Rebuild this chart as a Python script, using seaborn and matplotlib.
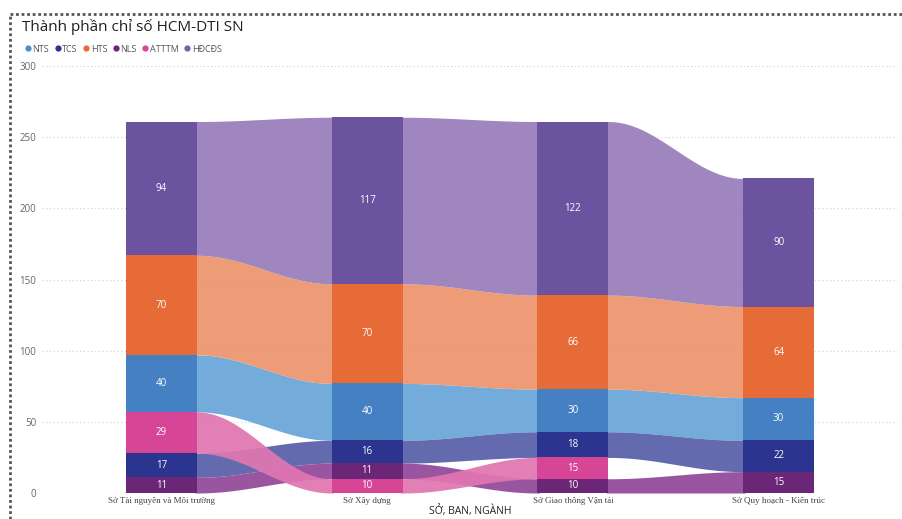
import numpy as np
import pandas as pd
import matplotlib.pyplot as plt
import seaborn as sns
from matplotlib.lines import Line2D

categories = ["Sở Tài nguyên và Môi trường", "Sở Xây dựng",
              "Sở Giao thông Vận tải", "Sở Quy hoạch - Kiến trúc"]
series = ["NTS", "TCS", "HTS", "NLS", "ATTTM", "HĐCĐS"]

nts = [40, 40, 30, 30]
tcs = [17, 16, 18, 22]
hts = [70, 70, 66, 64]
nls = [11, 11, 10, 15]
atttm = [29, 10, 15, 0]
hdcds = [94, 117, 122, 90]

bar_colors = {"NTS": "#4480C2", "TCS": "#2B358F", "HTS": "#E66B37",
              "NLS": "#6B2678", "ATTTM": "#D74696", "HĐCĐS": "#6C53A0"}
ribbon_colors = {"NTS": "#68A6D9", "TCS": "#5760A8", "HTS": "#ED946E",
                 "NLS": "#934899", "ATTTM": "#E076B1", "HĐCĐS": "#987DBA"}
legend_colors = {"NTS": "#4A8FD0", "TCS": "#2B358F", "HTS": "#E66C37",
                 "NLS": "#6B2678", "ATTTM": "#D9479B", "HĐCĐS": "#7A5EB0"}

values = dict(zip(series, [nts, tcs, hts, nls, atttm, hdcds]))

# ribbon chart: in each column the smallest value sits at the bottom
rows = []
for i, cat in enumerate(categories):
    col = sorted((values[s][i], s) for s in series if values[s][i] > 0)
    base = 0
    for v, s in col:
        rows.append(dict(cat=cat, pos=i, series=s, value=v, bottom=base, top=base + v))
        base += v
df = pd.DataFrame(rows)
df["rank"] = df.groupby("cat")["top"].rank(ascending=False).astype(int)

sns.set_theme(style="white")
plt.rcParams["font.family"] = ["Open Sans", "DejaVu Sans"]

fig = plt.figure(figsize=(9.02, 5.19), dpi=100)
ax = fig.add_axes([42 / 902, 26 / 519, 856 / 902, 427 / 519])

bar_w = 71 / 205.67

# stacked bars: draw the tallest cumulative segment first, smaller ones on top
for r in sorted(df["rank"].unique()):
    sub = df[df["rank"] == r]
    sns.barplot(data=sub, x="cat", y="top", hue="series", order=categories,
                palette=bar_colors, dodge=False, width=bar_w, errorbar=None,
                saturation=1, legend=False, linewidth=0, ax=ax, zorder=3)

# ribbons between neighbouring columns (tucked a little under the bars)
t = np.linspace(0, 1, 80)
s = (1 - np.cos(np.pi * t)) / 2
tuck = 0.01
for name in series:
    sd = df[df["series"] == name].set_index("pos")
    for i in range(len(categories) - 1):
        if i not in sd.index or i + 1 not in sd.index:
            continue
        x = i + bar_w / 2 + t * (1 - bar_w)
        lo = sd.loc[i, "bottom"] + (sd.loc[i + 1, "bottom"] - sd.loc[i, "bottom"]) * s
        hi = sd.loc[i, "top"] + (sd.loc[i + 1, "top"] - sd.loc[i, "top"]) * s
        x = np.r_[x[0] - tuck, x, x[-1] + tuck]
        lo = np.r_[lo[0], lo, lo[-1]]
        hi = np.r_[hi[0], hi, hi[-1]]
        ax.fill_between(x, lo, hi, color=ribbon_colors[name], alpha=0.93,
                        linewidth=0, zorder=2)

for _, row in df.iterrows():
    ax.text(row["pos"], (row["bottom"] + row["top"]) / 2, str(row["value"]),
            ha="center", va="center", color="white", fontsize=7, zorder=4)

ax.set_xlim(-0.58, 3.58)
ax.set_ylim(0, 300)
ax.set_yticks(range(0, 301, 50))
ax.yaxis.grid(True, linestyle=(0, (1, 2)), color="#d5d5d5", linewidth=0.9)
ax.xaxis.grid(False)
ax.set_axisbelow(True)
sns.despine(ax=ax, left=True, bottom=True)
ax.tick_params(axis="both", length=0)
ax.tick_params(axis="y", labelsize=7, labelcolor="#666666", pad=4)
ax.set_xticks(range(len(categories)))
ax.set_xticklabels(categories, fontsize=6.5, color="#444444",
                   family=["Liberation Serif"])
ax.tick_params(axis="x", pad=3)
ax.set_ylabel("")
ax.set_xlabel("SỞ, BAN, NGÀNH", fontsize=7.5, color="#252423", labelpad=0)

fig.text(22 / 902, 1 - 27 / 519, "Thành phần chỉ số HCM-DTI SN", fontsize=11,
         color="#1f1f1f", va="center", ha="left")

handles = [Line2D([0], [0], marker="o", linestyle="", markersize=4.5,
                  markerfacecolor=legend_colors[n], markeredgewidth=0)
           for n in series]
fig.legend(handles, series, loc="center left", bbox_to_anchor=(19 / 902, 1 - 49 / 519),
           ncol=6, frameon=False, fontsize=6.5, handletextpad=0.0,
           columnspacing=0.45, borderpad=0, handlelength=1.0,
           labelcolor="#555555")

# dotted frame of the visual
fig.add_artist(Line2D([10 / 902, 1], [1 - 14 / 519, 1 - 14 / 519],
                      transform=fig.transFigure, color="#555555", lw=2,
                      linestyle=(0, (1, 1))))
fig.add_artist(Line2D([10 / 902, 10 / 902], [0, 1 - 14 / 519],
                      transform=fig.transFigure, color="#555555", lw=2,
                      linestyle=(0, (1, 1))))

fig.savefig("out.png", dpi=100)
